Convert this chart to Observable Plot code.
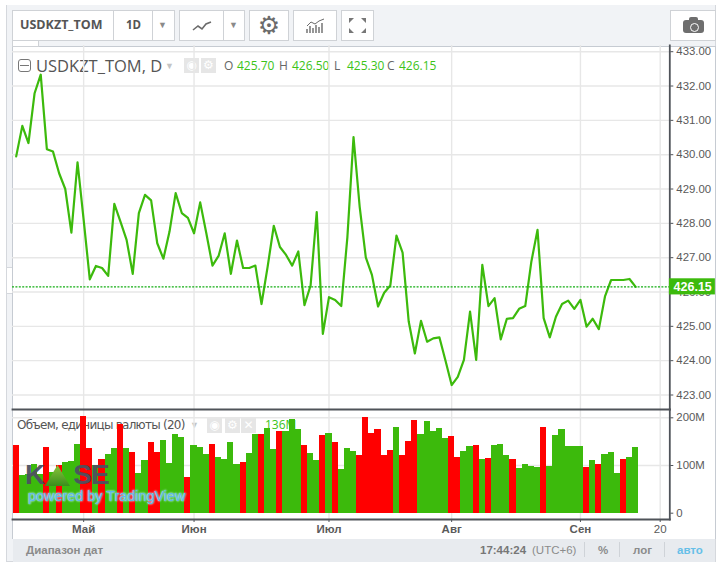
<!DOCTYPE html>
<html lang="ru">
<head>
<meta charset="utf-8">
<script src="https://cdn.jsdelivr.net/npm/d3@7"></script>
<script src="https://cdn.jsdelivr.net/npm/@observablehq/plot@0.6"></script>
<style>
html,body{margin:0;padding:0;background:#fff;}
#root{position:relative;width:719px;height:565px;overflow:hidden;font-family:"Liberation Sans",Arial,sans-serif;color:#555;}
#root>*{position:absolute;}
.bg{left:6px;top:5px;width:710px;height:557px;background:#f1f3f6;border-left:1px solid #d5d8dd;border-right:1px solid #d5d8dd;border-bottom:1px solid #d5d8dd;box-sizing:border-box;}
.panel{left:12px;top:46px;width:704px;height:493px;background:#fff;border-left:1px solid #c6cbd2;border-top:1px solid #c6cbd2;border-right:1px solid #c6cbd2;box-sizing:border-box;}
.btn{top:10px;height:31px;background:#fff;border:1px solid #cfd2d6;box-sizing:border-box;display:flex;align-items:center;justify-content:center;color:#6b6b6b;}
.sep{top:10px;width:1px;height:31px;background:#cfd2d6;}
.caret{font-size:9px;color:#8a8a8a;top:20px;}
.tab{left:12px;top:40px;width:27px;height:7px;background:#fff;border:1px solid #cfd2d6;box-sizing:border-box;}
.grip{left:6px;top:267px;width:6px;height:27px;background:#fff;border:1px solid #d5d8dd;border-right:none;box-sizing:border-box;}
.title{left:36px;top:56px;font:16.5px/20px "Open Sans",sans-serif;color:#555;white-space:pre;}
.minus{left:18px;top:59px;width:13px;height:13px;border:1px solid #777;border-radius:3px;box-sizing:border-box;}
.minus:after{content:"";position:absolute;left:1px;right:1px;top:5px;height:1px;background:#777;}
.ico{width:15px;height:15px;background:#e6e6e6;color:#fff;font:bold 12px/15px "DejaVu Sans";text-align:center;}
.ohlc{top:58px;font:12px/16px "Open Sans",sans-serif;color:#666;white-space:pre;}
.ohlc.g{color:#3cc318;}
.volleg{left:17px;top:417px;font:12px/16px "DejaVu Sans",sans-serif;letter-spacing:-.75px;color:#555;white-space:pre;}
.volval{left:265px;top:417px;font:12px/16px "Open Sans",sans-serif;color:#3cc318;}
.foot{left:13px;top:539px;width:702px;height:23px;background:#e8ebef;}
.ft{top:543px;font:11.5px/15px "Liberation Sans",sans-serif;color:#8b8b8b;white-space:pre;}
.ftsep{top:542px;width:1px;height:15px;background:#cfd3d8;}
.kase{left:25px;top:458px;font:bold 28px/34px "Liberation Sans",sans-serif;letter-spacing:-1px;color:#4e5160;white-space:pre;opacity:.95;}
.kase i{display:inline-block;width:29px;}
.tri{left:45px;top:465px;width:25px;height:21px;background:linear-gradient(#8cc43c,#3a8f1c);clip-path:polygon(50% 0,100% 100%,0 100%);}
.tv{left:28px;top:487px;font:14.4px/18px "Liberation Sans",sans-serif;color:#5cb8ea;text-shadow:0 0 2px #bfe8f8,0 0 2px #bfe8f8;white-space:pre;}
svg.plot{position:absolute;background:transparent;overflow:visible;}
</style>
</head>
<body>
<div id="root">
  <div class="bg"></div>
  <div class="panel"></div>
  <div class="tab"></div>
  <div class="grip"></div>

  <div class="btn" style="left:12px;width:163px;"></div>
  <div class="sep" style="left:113px;"></div>
  <div class="sep" style="left:152px;"></div>
  <div style="left:20px;top:16px;font:bold 12.5px/18px 'Open Sans',sans-serif;color:#555;">USDKZT_TOM</div>
  <div style="left:126px;top:16px;font:bold 11.5px/18px 'Open Sans',sans-serif;color:#555;">1D</div>
  <div class="caret" style="left:158px;">▼</div>
  <div class="btn" style="left:179px;width:66px;"></div>
  <div class="sep" style="left:223px;"></div>
  <svg style="left:192px;top:19px;" width="20" height="14" viewBox="0 0 20 14"><polyline points="1,11 6,7 10,10 14,5 19,3" fill="none" stroke="#6b6b6b" stroke-width="1.6"/></svg>
  <div class="caret" style="left:229px;">▼</div>
  <div class="btn" style="left:249px;width:40px;font:25px/25px 'DejaVu Sans';">⚙</div>
  <div class="btn" style="left:293px;width:44px;"></div>
  <svg style="left:306px;top:18px;" width="19" height="16" viewBox="0 0 19 16"><path d="M1 15V11M4 15V8M7 15V10M10 15V7M13 15V9M16 15V5" stroke="#6b6b6b" stroke-width="1.4" fill="none"/><polyline points="1,8 5,4 9,6 13,3 18,1" fill="none" stroke="#6b6b6b" stroke-width="1"/></svg>
  <div class="btn" style="left:341px;width:33px;"></div>
  <svg style="left:348px;top:17px;" width="19" height="17" viewBox="0 0 19 17"><path d="M1 1h5L1 6zM18 1h-5l5 5zM1 16h5L1 11zM18 16h-5l5-5z" fill="#777"/></svg>
  <div class="btn" style="left:670px;width:46px;"></div>
  <div style="left:683px;top:20px;width:21px;height:13px;background:#6e6e6e;border-radius:3px;"></div>
  <div style="left:689px;top:17px;width:9px;height:4px;background:#6e6e6e;border-radius:2px 2px 0 0;"></div>
  <div style="left:690px;top:23px;width:7px;height:7px;border-radius:50%;background:#6e6e6e;border:1.5px solid #fff;"></div>

  <div class="minus"></div>
  <div class="title">USDKZT_TOM, D</div>
  <div class="caret" style="left:165px;top:61px;color:#c4c4c4;">▼</div>
  <div class="ico" style="left:184px;top:58px;">◉</div>
  <div class="ico" style="left:201px;top:58px;">⚙</div>
  <div class="ohlc" style="left:224px;">O</div><div class="ohlc g" style="left:237px;">425.70</div>
  <div class="ohlc" style="left:279px;">H</div><div class="ohlc g" style="left:292px;">426.50</div>
  <div class="ohlc" style="left:334px;">L</div><div class="ohlc g" style="left:347px;">425.30</div>
  <div class="ohlc" style="left:387px;">C</div><div class="ohlc g" style="left:399px;">426.15</div>

  <div class="volleg">Объем, единицы валюты (20)</div>
  <div class="caret" style="left:190px;top:420px;color:#c4c4c4;">▼</div>
  <div class="ico" style="left:207px;top:418px;">◉</div>
  <div class="ico" style="left:225px;top:418px;">⚙</div>
  <div class="ico" style="left:241px;top:418px;">✕</div>
  <div class="volval">136M</div>

  <div class="foot"></div>
  <div class="ft" style="left:26px;font-weight:bold;">Диапазон дат</div>
  <div class="ft" style="left:480px;font-weight:bold;color:#777;">17:44:24</div>
  <div class="ft" style="left:532px;">(UTC+6)</div>
  <div class="ftsep" style="left:584px;"></div>
  <div class="ft" style="left:598px;font-weight:bold;">%</div>
  <div class="ftsep" style="left:619px;"></div>
  <div class="ft" style="left:633px;font-weight:bold;">лог</div>
  <div class="ftsep" style="left:664px;"></div>
  <div class="ft" style="left:677px;font-weight:bold;color:#66bfe8;">авто</div>

  <div id="price"></div>
  <div id="volume"></div>

  <div class="kase">K<i></i>SE</div>
  <div class="tri"></div>
  <div class="tv">powered by TradingView</div>
</div>
<script>
const closePrices = [429.95,430.84,430.34,431.79,432.33,430.16,430.09,429.46,429.0,427.73,429.78,428.1,426.37,426.76,426.70,426.47,428.57,428.05,427.52,426.53,428.30,428.83,428.67,427.42,426.97,427.76,428.88,428.30,428.16,427.71,428.61,427.71,426.77,427.05,427.71,426.53,427.50,426.70,426.70,426.77,425.65,426.74,427.93,427.31,427.08,426.77,427.18,425.62,426.19,428.33,424.78,425.85,425.77,425.59,427.6,430.51,428.49,427.01,426.5,425.58,425.98,426.19,427.64,427.15,425.14,424.21,425.16,424.55,424.65,424.68,424.0,423.29,423.53,424.02,425.43,424.02,426.79,425.59,425.82,424.62,425.22,425.24,425.51,425.59,426.89,427.81,425.24,424.68,425.28,425.65,425.75,425.51,425.77,424.99,425.22,424.92,425.87,426.35,426.35,426.35,426.38,426.15];
const volumesM = [142,79,81,103,81,138,86,99,107,108,145,203,135,100,113,123,136,187,136,128,83,110,148,127,152,105,165,158,75,141,137,124,145,117,113,148,102,107,126,164,164,177,133,171,171,196,175,141,126,110,163,167,148,92,135,130,120,201,167,175,122,131,180,120,150,194,165,192,171,178,157,161,117,130,139,141,113,115,141,143,120,113,94,102,98,96,180,98,163,176,139,139,139,96,110,102,124,127,83,113,117,137];
const volumeDown = [1,0,0,0,0,1,0,1,0,0,0,1,1,0,1,0,0,1,0,1,0,0,1,1,0,0,0,0,1,0,0,0,1,0,0,0,0,1,0,0,1,0,0,1,0,0,0,1,0,0,1,0,1,0,0,0,1,1,1,1,1,1,0,1,1,1,0,0,0,0,0,1,1,0,0,1,0,1,0,0,0,1,0,0,0,0,1,0,0,0,0,0,0,1,0,1,0,0,0,1,0,0];
const monthTicks = [11,29,51,71,92];
const monthLabels = ["Май","Июн","Июл","Авг","Сен"];
const dayTicks = [105];
const dayLabels = ["20"];
const priceTicks = [423,424,425,426,427,428,429,430,431,432,433];
const volumeTicks = [0,100,200];
const lastPrice = 426.15;

const LINE = "#3cba0c", RED = "#ff0000", GRID = "#e7e7e7", DARK = "#4f5359", TXT = "#5a5a5a";
const xDomain = [-0.7, 106.47], xRange = [11.4, 668.7];
const W = 719;
const allTicks = [...monthTicks, ...dayTicks];
const priceRows = closePrices.map((c, i) => ({i, c}));
const volRows = volumesM.map((v, i) => ({i, v, dir: volumeDown[i] ? "down" : "up"}));

const price = Plot.plot({
  width: W, height: 364, marginLeft: 12, marginRight: W - 669.3, marginTop: 0, marginBottom: 0,
  x: {type: "linear", domain: xDomain, range: xRange, axis: null},
  y: {domain: [423, 433], range: [349.5, 6.2], axis: null},
  style: {background: "transparent", overflow: "visible"},
  marks: [
    Plot.gridX(allTicks, {stroke: GRID, strokeOpacity: 1, strokeWidth: 1.4}),
    Plot.gridY(priceTicks, {stroke: GRID, strokeOpacity: 1, strokeWidth: 1.4}),
    Plot.axisY(priceTicks, {anchor: "right", tickSize: 3, tickPadding: 3.5, stroke: DARK, fill: TXT, fontSize: 11.4, fontFamily: "Liberation Sans", tickFormat: d => d.toFixed(2), label: null}),
    Plot.line(priceRows, {x: "i", y: "c", stroke: LINE, strokeWidth: 2.2, curve: "linear"}),
    Plot.ruleY([lastPrice], {stroke: "#14ad14", strokeWidth: 1.2, strokeDasharray: "2 1.4"}),
    Plot.frame({anchor: "right", stroke: DARK, strokeWidth: 1.8}),
    Plot.rect([lastPrice], {x1: 106.5, x2: 114, y1: d => d - 0.235, y2: d => d + 0.235, fill: LINE}),
    Plot.text([lastPrice], {x: 110.3, y: d => d, text: d => d.toFixed(2), fill: "#fff", fontWeight: "bold", fontSize: 12.5, fontFamily: "Liberation Sans"})
  ]
});
price.style.left = "0px"; price.style.top = "45px";
document.getElementById("price").replaceWith(price);

const volume = Plot.plot({
  width: W, height: 131, marginLeft: 12, marginRight: W - 669.3, marginTop: 1, marginBottom: 20,
  x: {type: "linear", domain: xDomain, range: xRange},
  y: {domain: [0, 200], range: [104.7, 9.3]},
  color: {domain: ["up", "down"], range: [LINE, RED]},
  style: {background: "transparent", overflow: "visible"},
  marks: [
    Plot.gridX(allTicks, {stroke: GRID, strokeOpacity: 1, strokeWidth: 1.4}),
    Plot.gridY(volumeTicks.slice(1), {stroke: GRID, strokeOpacity: 1, strokeWidth: 1.4}),
    Plot.rectY(volRows, {x1: d => d.i - 0.5, x2: d => d.i + 0.5, y1: 0, y2: "v", fill: "dir", shapeRendering: "crispEdges"}),
    Plot.axisY(volumeTicks, {anchor: "right", tickSize: 3, tickPadding: 3.5, stroke: DARK, fill: TXT, fontSize: 11.4, fontFamily: "Liberation Sans", tickFormat: d => d ? d + "M" : "0", label: null}),
    Plot.axisX(monthTicks, {anchor: "bottom", tickSize: 3, tickPadding: 2, stroke: DARK, fill: TXT, fontSize: 11.5, fontWeight: "bold", fontFamily: "Liberation Sans", tickFormat: d => monthLabels[monthTicks.indexOf(d)], label: null}),
    Plot.axisX(dayTicks, {anchor: "bottom", tickSize: 3, tickPadding: 2, stroke: DARK, fill: TXT, fontSize: 11.5, fontFamily: "Liberation Sans", tickFormat: d => dayLabels[dayTicks.indexOf(d)], label: null}),
    Plot.frame({anchor: "top", stroke: DARK, strokeWidth: 1.8}),
    Plot.frame({anchor: "bottom", stroke: DARK, strokeWidth: 1.8}),
    Plot.frame({anchor: "right", stroke: DARK, strokeWidth: 1.8})
  ]
});
volume.style.left = "0px"; volume.style.top = "408px";
document.getElementById("volume").replaceWith(volume);
</script>
</body>
</html>
